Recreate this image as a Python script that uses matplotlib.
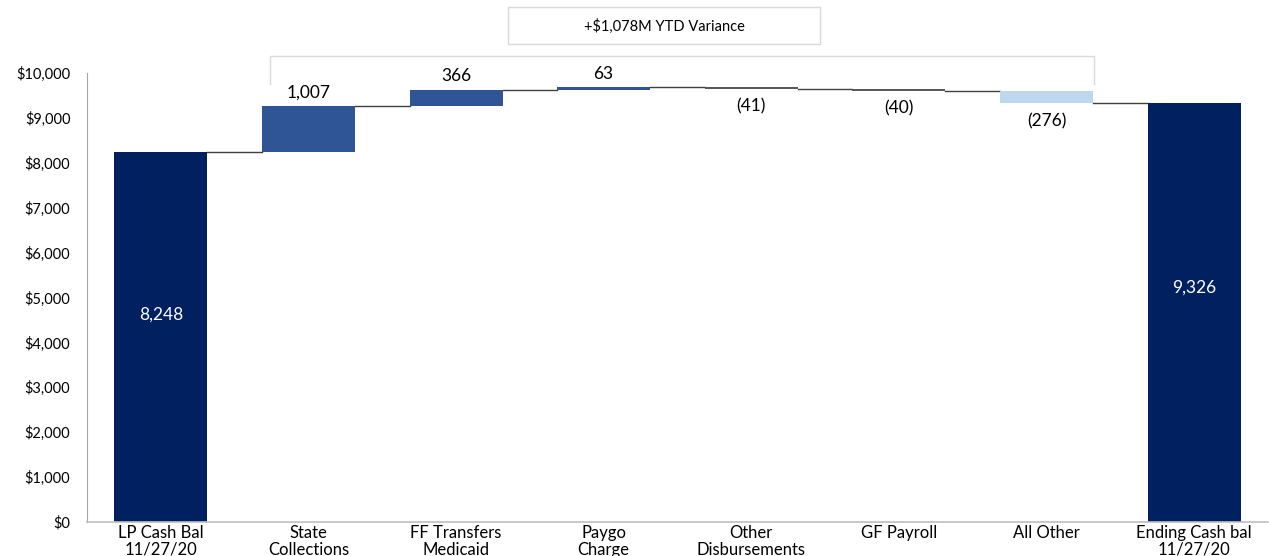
import matplotlib.pyplot as plt
from matplotlib.ticker import FuncFormatter
from matplotlib.patches import Rectangle

plt.rcParams['font.family'] = ['Lato', 'DejaVu Sans']

categories = ["LP Cash Bal\n11/27/20", "State\nCollections", "FF Transfers\nMedicaid",
              "Paygo\nCharge", "Other\nDisbursements", "GF Payroll", "All Other",
              "Ending Cash bal\n11/27/20"]
values = [8248, 1007, 366, 63, -41, -40, -276, 9326]
is_total = [True, False, False, False, False, False, False, True]
bar_colors = ["#002060", "#2F5597", "#2F5597", "#2F5597", "#595959", "#595959",
              "#BDD7EE", "#002060"]
variance_text = "+$1,078M YTD Variance"

fig = plt.figure(figsize=(12.69, 5.56), dpi=100)
ax = fig.add_axes([87 / 1269, 34 / 556, 1181 / 1269, 449 / 556])

x = list(range(len(categories)))
w = 0.63
bottoms = []
tops = []
running = 0
for i, v in enumerate(values):
    if is_total[i]:
        b, t = 0, v
        running = v
    else:
        b, t = min(running, running + v), max(running, running + v)
        running += v
    bottoms.append(b)
    tops.append(t)

ax.bar(x, [t - b for b, t in zip(bottoms, tops)], bottom=bottoms, width=w,
       color=bar_colors, zorder=2)

# connector lines between bars
level = values[0]
for i in range(len(values) - 1):
    if not is_total[i]:
        level += values[i]
    ax.plot([i + w / 2, i + 1 - w / 2], [level, level], color="#404040", lw=1, zorder=1)

for i, v in enumerate(values):
    lab = f"{abs(v):,}"
    if is_total[i]:
        ax.text(i, v * 0.56, lab, ha="center", va="center", color="white", fontsize=12.5)
    elif v > 0:
        ax.annotate(lab, (i, tops[i]), xytext=(0, 4), textcoords="offset points",
                    ha="center", va="bottom", fontsize=12.5)
    else:
        ax.annotate(f"({lab})", (i, bottoms[i]), xytext=(0, -7), textcoords="offset points",
                    ha="center", va="top", fontsize=12.5)

ax.set_xlim(-0.5, len(categories) - 0.5)
ax.set_ylim(0, 10000)
ax.set_yticks(range(0, 10001, 1000))
ax.yaxis.set_major_formatter(FuncFormatter(lambda v, p: f"${int(v):,}"))
ax.set_xticks(x)
ax.set_xticklabels(categories, fontsize=12, linespacing=1.02)
ax.tick_params(axis="y", labelsize=10.5, length=0, pad=12)
ax.tick_params(axis="x", length=0, pad=2.5)
for s in ["top", "right"]:
    ax.spines[s].set_visible(False)
ax.spines["left"].set_color("#A6A6A6")
ax.spines["bottom"].set_color("#BFBFBF")
ax.spines["bottom"].set_linewidth(1.2)

# bracket and variance box
ax.plot([0.74, 0.74, 6.32, 6.32], [9760, 10380, 10380, 9760], color="#D9D9D9",
        lw=1, clip_on=False, zorder=0)
fig.patches.append(Rectangle((508 / 1269, 1 - 44 / 556), 312 / 1269, 37 / 556,
                             transform=fig.transFigure, facecolor="white",
                             edgecolor="#D9D9D9", lw=1))
fig.text(664 / 1269, 1 - 26 / 556, variance_text, ha="center", va="center", fontsize=10.5)

fig.savefig("out.png", dpi=100)
